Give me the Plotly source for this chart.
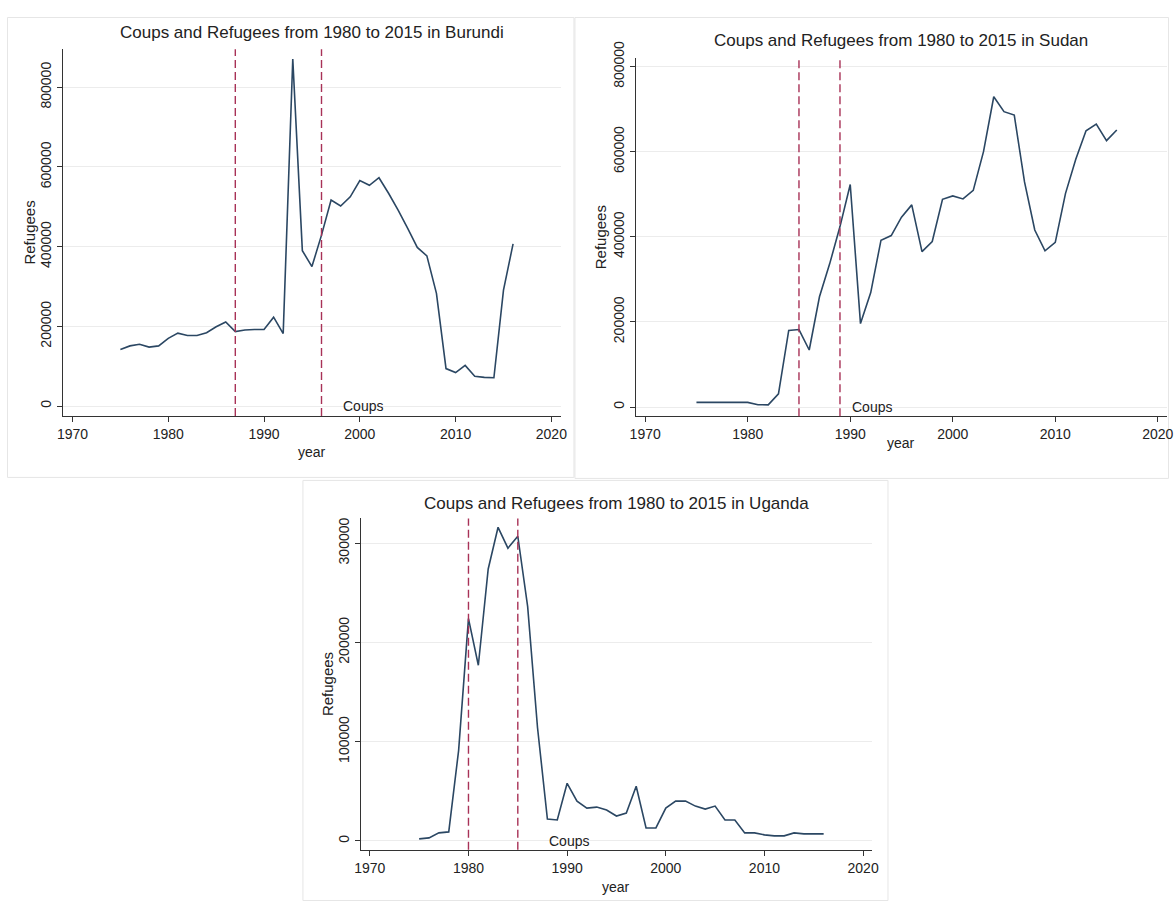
import plotly.graph_objects as go

# ---------------- data ----------------
years = list(range(1975, 2017))

burundi_refugees = [142000, 151000, 155000, 148000, 151000, 170000, 183000, 177000, 177000, 184000,
                    199000, 211000, 187000, 191000, 192000, 192000, 223000, 182000, 871000, 390000,
                    350000, 429000, 517000, 502000, 525000, 566000, 554000, 573000, 534000, 492000,
                    446000, 398000, 377000, 283000, 94000, 84000, 102000, 75000, 72000, 71000,
                    291000, 407000]

sudan_refugees = [11000, 11000, 11000, 11000, 11000, 11000, 5500, 5000, 31000, 180000,
                  182000, 134000, 259000, 337000, 424000, 523000, 196000, 269000, 392000, 403000,
                  446000, 475000, 365000, 389000, 488000, 496000, 489000, 509000, 600000, 729000,
                  694000, 686000, 529000, 416000, 367000, 387000, 502000, 582000, 649000, 665000,
                  626000, 651000]

uganda_refugees = [2000, 3000, 8000, 9000, 91000, 224000, 177000, 274000, 316000, 295000,
                   307000, 236000, 114000, 22000, 21000, 58000, 40000, 33000, 34000, 31000,
                   25000, 28000, 55000, 13000, 13000, 33000, 40000, 40000, 35000, 32000,
                   35000, 21000, 21000, 8000, 8000, 6000, 5000, 5000, 8000, 7000,
                   7000, 7000]

burundi_coups = [1987, 1996]
sudan_coups = [1985, 1989]
uganda_coups = [1980, 1985]

countries = ["Burundi", "Sudan", "Uganda"]
x_ticks = [1970, 1980, 1990, 2000, 2010, 2020]
y_ticks_big = [0, 200000, 400000, 600000, 800000]
y_ticks_uganda = [0, 100000, 200000, 300000]
coups_label_year = [1998, 1990, 1988]

# ---------------- layout (pixels) ----------------
W, H = 1176, 901
FONT = "Liberation Sans, Arial, Helvetica, sans-serif"
LINE_COLOR = "#2b4763"
COUP_COLOR = "#a83257"
TEXT_COLOR = "#222222"

# compensation for the capture's offset/scale (measured from earlier renders)
OX, SX = 7.1, 0.988
OY, SY = 17.1, 0.980


def clamp(v, lo, hi):
    return max(lo, min(hi, v))


def px(x):
    return clamp((x - OX) / SX, 0.5, W - 0.5) / W


def py(y):
    return 1 - clamp((y - OY) / SY, 0.5, H - 0.5) / H


panels = [
    dict(name="Burundi", values=burundi_refugees, coups=burundi_coups, yticks=y_ticks_big,
         box=(63, 561, 49.3, 415.7), xr=[1969.0, 2021.0], yr=[-25100, 895500],
         title_y=33, year_y=452, ref_x=30, frame=(7, 574, 7, 477)),
    dict(name="Sudan", values=sudan_refugees, coups=sudan_coups, yticks=y_ticks_big,
         box=(635.7, 1167, 58.3, 416), xr=[1969.07, 2020.9], yr=[-21900, 819500],
         title_y=41, year_y=443, ref_x=600, frame=(575, 1172, 16, 478)),
    dict(name="Uganda", values=uganda_refugees, coups=uganda_coups, yticks=y_ticks_uganda,
         box=(361, 872, 518, 849), xr=[1969.1, 2020.9], yr=[-9100, 324900],
         title_y=503, year_y=886, ref_x=327, frame=(303, 888, 480, 900)),
]

fig = go.Figure()
shapes = []
annotations = []

for i, p in enumerate(panels):
    sfx = "" if i == 0 else str(i + 1)
    xa, ya = "x" + sfx, "y" + sfx
    x0, x1, y0, y1 = p["box"]

    # panel frame
    fx0, fx1, fy0, fy1 = p["frame"]
    shapes.append(dict(type="rect", xref="paper", yref="paper",
                       x0=px(fx0), x1=px(fx1), y0=py(fy1), y1=py(fy0),
                       line=dict(color="#e6e6e6", width=1), fillcolor="rgba(0,0,0,0)", layer="below"))

    fig.add_trace(go.Scatter(x=years, y=p["values"], mode="lines", xaxis=xa, yaxis=ya,
                             line=dict(color=LINE_COLOR, width=1.6), showlegend=False,
                             hoverinfo="x+y"))

    for c in p["coups"]:
        shapes.append(dict(type="line", xref=xa, yref=ya + " domain", x0=c, x1=c, y0=0, y1=1,
                           line=dict(color=COUP_COLOR, width=1.4, dash="8px,4px")))

    annotations.append(dict(x=coups_label_year[i], y=0, xref=xa, yref=ya, text="Coups",
                            showarrow=False, xanchor="left", yanchor="middle",
                            font=dict(family=FONT, size=14, color=TEXT_COLOR)))

    cx = (x0 + x1) / 2
    annotations.append(dict(x=px(cx), y=py(p["title_y"]), xref="paper", yref="paper",
                            text="Coups and Refugees from 1980 to 2015 in " + p["name"],
                            showarrow=False, xanchor="center", yanchor="middle",
                            font=dict(family=FONT, size=17, color=TEXT_COLOR)))
    annotations.append(dict(x=px(cx), y=py(p["year_y"]), xref="paper", yref="paper",
                            text="year", showarrow=False, xanchor="center", yanchor="middle",
                            font=dict(family=FONT, size=14, color=TEXT_COLOR)))
    annotations.append(dict(x=px(p["ref_x"]), y=py((y0 + y1) / 2), xref="paper", yref="paper",
                            text="Refugees", showarrow=False, textangle=-90,
                            xanchor="center", yanchor="middle",
                            font=dict(family=FONT, size=15, color=TEXT_COLOR)))

    fig.layout["xaxis" + sfx] = dict(
        domain=[px(x0), px(x1)], anchor=ya, range=p["xr"], tickvals=x_ticks,
        showgrid=False, zeroline=False, showline=True, linecolor="#333333", linewidth=1,
        ticks="outside", ticklen=5, tickcolor="#333333",
        tickfont=dict(family=FONT, size=14, color=TEXT_COLOR), fixedrange=True)
    fig.layout["yaxis" + sfx] = dict(
        domain=[py(y1), py(y0)], anchor=xa, range=p["yr"], tickvals=p["yticks"],
        tickformat="d", tickangle=-90,
        showgrid=True, gridcolor="#ececec", gridwidth=1, zeroline=False,
        showline=True, linecolor="#333333", linewidth=1,
        ticks="outside", ticklen=5, tickcolor="#333333",
        tickfont=dict(family=FONT, size=14, color=TEXT_COLOR), fixedrange=True)

fig.update_layout(
    width=W, height=H, autosize=False,
    margin=dict(l=0, r=0, t=0, b=0),
    paper_bgcolor="white", plot_bgcolor="white",
    shapes=shapes, annotations=annotations,
    font=dict(family=FONT, color=TEXT_COLOR),
    showlegend=False,
)

fig.write_html(
    "out.html",
    config={"displayModeBar": False},
    post_script=(
        "document.body.style.margin='0';document.body.style.overflow='hidden';"
        "document.documentElement.style.overflow='hidden';"
    ),
)
